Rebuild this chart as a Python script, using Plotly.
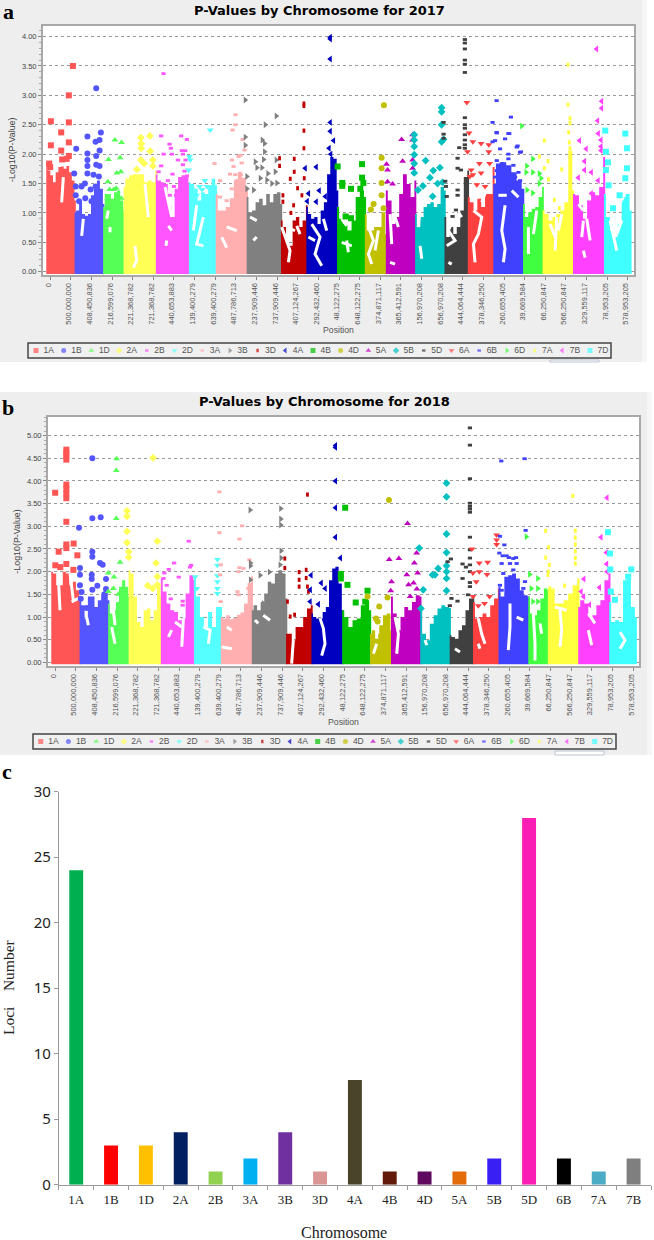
import numpy as np
import plotly.graph_objects as go

W, H = 654, 1240

CHROMS = ["1A","1B","1D","2A","2B","2D","3A","3B","3D","4A","4B","4D","5A","5B","5D","6A","6B","6D","7A","7B","7D"]
CHR_END = [591.5,1283.4,1778.6,2559.3,3360.6,4012,4762,5592.9,6207.6,6951.9,7625.1,8134.6,8843,9555.9,10121.7,10739.3,11460.3,11933.7,12670.4,13421,14060]
COLORS = ["#FF5555","#5555FF","#55FF55","#FFFF55","#FF55FF","#55FFFF","#FFAFAF","#808080","#C00000","#0000C0","#00C000","#C0C000","#C000C0","#00C0C0","#404040","#FF4040","#4040FF","#40FF40","#FFFF40","#FF40FF","#40FFFF"]
SYMBOLS = ["square","circle","triangle-up","diamond","line-ew","triangle-down","line-ew","triangle-right","line-ns","triangle-left","square","circle","triangle-up","diamond","line-ew","triangle-down","line-ew","triangle-right","line-ns","triangle-left","square"]

TICK_POS = list(range(0, 14001, 500))
TICK_TEXT = ["0","500,000,000","408,450,836","216,599,076","221,368,782","721,368,782","440,653,883","139,400,279","639,400,279","487,786,713","237,909,446","737,909,446","407,124,267","292,432,460","48,122,275","648,122,275","374,871,117","365,412,591","156,970,208","656,970,208","444,064,444","378,346,250","260,655,405","39,669,584","66,250,847","566,250,847","329,559,117","78,953,205","578,953,205"]

# 2017: upper edge of the dense mass per chromosome (-log10 p, along the chromosome)
env17_1A = [1.86,1.72,1.64,1.52,1.69,1.78,1.79,1.75,1.80,1.69,1.55,1.21]
env17_1B = [1.01,1.04,1.18,0.98,0.95,0.98,1.30,1.49,1.55,1.41,1.15]
env17_1D = [1.10,1.32,1.32,1.24,1.35,1.38,1.21,1.04]
env17_2A = [1.44,1.58,1.64,1.66,1.66,1.66,1.52,1.55,1.52,1.72]
env17_2B = [1.66,1.55,1.52,1.49,1.12,0.93,1.41,1.61,1.64,1.61,1.49]
env17_2D = [1.52,1.49,1.41,1.21,1.35,1.32,1.47,1.58,1.47]
env17_3A = [1.32,1.04,1.04,1.10,1.25,1.55,1.70,1.60,1.40]
env17_3B = [1.27,1.01,1.04,1.18,1.24,1.13,1.32,1.18,1.32,1.35,1.15]
env17_3D = [0.87,0.76,0.47,0.44,0.87,0.93,0.76,0.87,1.13]
env17_4A = [1.10,0.98,0.90,0.93,0.81,1.04,1.18,1.66,1.95,1.92,1.38]
env17_4B = [1.10,0.90,0.81,0.70,0.87,1.27,1.38,1.27]
env17_4D = [0.98,0.70,0.70,0.76,0.76,1.01,0.64]
env17_5A = [1.38,1.21,0.81,0.93,1.32,1.66,1.49,1.27,1.55]
env17_5B = [0.98,0.76,0.93,1.10,1.15,1.18,1.10,1.15,1.44,1.38]
env17_5D = [0.93,0.59,0.76,0.64,0.76,1.04,1.61,1.72]
env17_6A = [1.27,1.18,1.04,1.24,1.10,1.32,1.32,1.78]
env17_6B = [1.49,1.84,1.86,1.81,1.69,1.55,1.41]
env17_6D = [1.15,0.93,1.01,1.07,1.10,1.27,1.44]
env17_7A = [1.04,0.98,0.87,0.93,0.98,1.04,1.18,2.06,1.38]
env17_7B = [1.32,1.30,1.13,0.90,1.21,1.35,1.30,1.44,1.95]
env17_7D = [1.32,0.93,0.70,0.59,0.81,1.27,1.32,1.04]

# 2017: separately visible points (cumulative Mb, -log10 p)
pts17_1A = [(550,3.50),(452,3.00),(16,2.56),(452,2.54),(267,2.37),(452,2.20),(16,2.15),(267,2.06),(452,1.97),(290,1.91),(400,1.92),(-24,1.84),(0,1.78)]
pts17_1B = [(1115,3.12),(1228,2.37),(902,2.30),(1196,2.24),(1099,2.21),(630,2.09),(902,2.01),(1196,2.06),(1115,1.97),(902,1.90),(902,1.80),(1115,1.82),(1196,1.80),(582,1.67),(902,1.67),(1050,1.65),(1180,1.62),(620,1.45),(840,1.50),(760,1.45),(980,1.40),(1100,1.45),(700,1.20),(850,1.25),(620,1.30),(1000,1.20)]
pts17_1D = [(1567,2.24),(1729,2.20),(1414,1.91),(1697,1.94),(1616,1.68),(1713,1.70),(1398,1.53),(1440,1.40),(1540,1.40),(1600,1.42),(1720,1.25)]
pts17_2A = [(2198,2.28),(2416,2.31),(2206,2.18),(2206,2.10),(2424,2.05),(2198,1.90),(2279,1.84),(2489,1.90),(2489,1.80),(2101,1.74)]
pts17_2B = [(2747,3.37),(2690,2.31),(3175,2.31),(3313,2.25),(2893,2.17),(2925,2.10),(2747,2.00),(2949,2.00),(3191,2.06),(3272,2.06),(3216,2.00),(3095,1.90),(3280,1.90),(2690,1.80),(2626,1.70),(2965,1.66),(3256,1.71),(3216,1.82),(3313,1.63),(2850,1.55),(3000,1.45),(2900,1.30),(3050,1.30)]
pts17_2D = [(3878,2.41),(3377,1.96),(3393,1.90),(3353,1.73),(3800,1.45),(3680,1.40),(3550,1.30),(3620,1.45),(3750,1.55)]
pts17_3A = [(3983,1.84),(4492,2.67),(4484,2.50),(4420,2.41),(4662,2.25),(4710,2.07),(4605,1.98),(4404,1.90),(4444,1.79),(4565,1.96),(4484,1.65),(4620,1.65),(4116,1.55),(4359,1.66),(4520,1.55),(4399,1.41),(4520,1.30),(4278,1.21),(4116,1.27),(4640,1.85)]
pts17_3B = [(4727,2.92),(5478,2.65),(5212,2.50),(4727,2.29),(4727,2.15),(5139,2.24),(5196,2.18),(5196,2.04),(4970,1.87),(5171,1.91),(5010,1.77),(5131,1.77),(5478,1.90),(4767,1.62),(5276,1.67),(5454,1.70),(5090,1.59),(5494,1.51),(4767,1.41),(4929,1.39),(5252,1.56),(5373,1.50)]
pts17_3D = [(6149,2.82),(6149,2.86),(6149,2.40),(6149,2.10),(5559,1.93),(5559,1.80),(5915,1.92),(5915,1.70),(5818,1.58),(6157,1.59),(5996,1.42),(5640,1.30),(6100,1.30),(5900,1.13),(5640,1.19),(5834,1.00)]
pts17_4A = [(6787,3.99),(6787,3.96),(6787,3.62),(6787,2.54),(6787,2.39),(6868,2.23),(6760,2.10),(6800,2.00),(6181,1.76),(6448,1.78),(6262,1.33),(6520,1.38),(6667,1.28),(6448,1.19),(6230,1.20)]
pts17_4B = [(7558,1.83),(7558,1.60),(7079,1.51),(7079,1.46),(7290,1.41),(7589,1.51),(7516,1.41),(7290,0.91),(7160,0.94),(6966,1.79)]
pts17_4D = [(8088,2.83),(8032,1.94),(8032,1.76),(8032,1.51),(8032,1.30),(7838,1.15),(7773,1.06),(8080,1.08)]
pts17_5A = [(8152,1.83),(8541,1.88),(8176,1.73),(8783,2.33),(8783,2.24),(8517,2.25),(8783,1.90),(8783,1.76),(8298,1.49),(8176,1.53)]
pts17_5B = [(9486,2.79),(9486,2.72),(9486,2.50),(9486,2.21),(9534,2.25),(8823,2.33),(8823,2.24),(8823,2.13),(8823,1.99),(8823,1.84),(8823,1.68),(9098,1.89),(9445,1.77),(9284,1.72),(9203,1.60),(9034,1.46),(8913,1.39),(9389,1.50),(9510,1.52),(9268,1.28)]
pts17_5D = [(10050,3.95),(10050,3.89),(10050,3.79),(10050,3.60),(10050,3.53),(10050,3.39),(10050,2.62),(10050,2.50),(10050,2.44),(10050,2.33),(10050,2.24),(10050,2.16),(10050,2.10),(9534,2.54),(9534,2.34),(9534,2.27),(9914,2.11),(9874,1.93),(9874,1.76),(9955,1.73),(9575,1.54),(9590,1.45),(9874,1.39),(9874,1.30),(9610,1.28),(9834,1.05),(9752,0.94)]
pts17_6A = [(10097,2.88),(10153,2.36),(10243,2.21),(10443,2.18),(10630,2.16),(10630,2.04),(10403,1.84),(10203,1.73),(10650,1.84),(10113,2.04),(10170,1.62),(10443,1.68),(10243,1.65),(10340,1.48),(10540,1.45)]
pts17_6B = [(10819,2.91),(11166,2.63),(10722,2.54),(10819,2.37),(11126,2.35),(11328,2.14),(11409,2.04),(10722,2.21),(10823,2.36),(11105,2.35),(10782,2.23),(11025,2.26),(11307,2.12),(10903,2.09),(11105,2.00),(11388,2.03),(10823,1.89),(11105,1.92),(10944,1.84),(11226,1.81),(11348,1.69),(10823,1.72),(11025,1.69),(11267,1.61),(10782,1.61),(10984,1.55),(11388,1.55),(11186,1.47)]
pts17_6D = [(11427,2.48),(11548,1.80),(11694,1.92),(11532,1.69),(11694,1.69),(11854,1.67),(11556,1.39),(11694,1.34),(11854,1.50),(11894,1.59)]
pts17_7A = [(12549,3.52),(12549,2.84),(12597,2.61),(12597,2.53),(12565,2.37),(11976,2.23),(11855,1.96),(12066,1.88),(11976,1.76),(12396,1.74),(12076,1.57),(12581,2.20),(12597,2.10),(12219,1.22),(12340,1.08)]
pts17_7B = [(13242,3.79),(13365,2.90),(13365,2.78),(13268,2.57),(13284,2.35),(13349,2.24),(12828,2.23),(12990,2.09),(13349,2.13),(13349,2.06),(12950,1.88),(13115,1.69),(13115,1.33),(12950,1.73),(12800,1.60),(13280,1.55)]
pts17_7D = [(13453,2.40),(13938,2.35),(13978,2.10),(13469,2.04),(13518,1.86),(13978,1.76),(13469,1.73),(13938,1.59),(13535,1.47),(13640,1.08),(13800,1.30)]

# 2017: white veins inside the mass (polylines, None separates them)
vein17_x = [319,278,None,803,763,None,1409,1369,None,1450,1450,None,2298,2379,None,2056,2096,2015,None,2783,2945,None,2823,2807,None,2864,2945,None,3551,3470,None,3712,3551,3712,None,4278,4520,None,4157,4278,None,4924,5005,None,4843,5005,None,5611,5813,5773,None,5975,6055,None,5813,5934,None,6338,6540,6419,6581,None,6257,6419,None,6621,6702,None,7065,7187,None,7187,7227,None,7065,7308,None,7712,7833,7712,7793,None,7954,7873,None,8237,8277,None,8237,8358,None,8358,8439,None,8964,8924,None,8964,9005,None,9651,9772,9651,9813,9611,None,9651,9732,None,9893,9974,None,10257,10459,10378,10257,10297,None,10459,10580,None,11025,10944,11025,10984,None,10863,11065,None,11186,11348,None,11590,11590,None,11792,11711,None,12277,12237,None,12115,12237,None,12398,12317,None,12923,12883,None,13004,13085,None,12923,12964,None,12802,12923,None,13570,13691,13732,None,13732,13853,None,13893,13732]
vein17_y = [1.61,1.18,None,0.90,0.61,None,1.04,0.90,None,0.76,0.67,None,1.49,0.93,None,0.44,0.19,0.07,None,1.44,0.93,None,0.53,0.44,None,0.78,0.70,None,1.13,0.70,None,0.93,0.47,0.44,None,0.76,0.70,None,0.59,0.41,None,0.53,0.59,None,0.93,0.87,None,0.76,0.36,0.16,None,0.78,0.64,None,0.73,0.70,None,0.81,0.59,0.30,0.10,None,0.59,0.53,None,0.90,0.70,None,0.90,0.78,None,0.53,0.33,None,0.50,0.44,None,0.76,0.53,0.30,0.13,None,0.70,0.36,None,0.98,0.47,None,0.16,0.13,None,0.93,0.76,None,1.07,0.76,None,0.44,0.22,None,1.10,0.90,0.70,0.53,0.44,None,0.16,0.13,None,1.01,0.93,None,1.04,0.93,0.64,0.47,0.16,None,1.18,1.41,None,1.13,0.70,0.39,0.16,None,1.30,1.30,None,1.38,1.27,None,0.76,0.30,None,1.04,0.64,None,0.93,0.36,None,0.81,0.59,None,0.98,0.70,None,0.87,0.59,None,0.90,0.53,None,0.36,0.24,None,1.15,1.04,None,0.87,0.47,0.36,None,0.64,0.87,None,1.27,1.10]

# 2018
env18_1A = [2.00,1.96,1.70,1.70,2.00,1.96,1.70,1.78,1.59,1.41]
env18_1B = [1.41,1.26,0.97,1.45,1.45,1.22,1.37,1.48,1.63,1.37]
env18_1D = [1.30,1.08,1.15,1.33,1.67,1.81,1.67,1.45]
env18_2A = [2.03,1.96,1.45,0.89,0.78,1.15,1.19,0.93,1.15,1.74,1.45]
env18_2B = [1.85,1.56,1.30,1.15,1.11,0.93,0.97,1.52,1.92,1.81]
env18_2D = [1.89,1.45,1.00,0.78,1.11,0.78,1.22,1.22]
env18_3A = [1.00,0.97,1.04,0.95,0.98,1.05,1.10,1.30,1.75,1.90]
env18_3B = [1.15,1.26,1.15,1.33,1.52,1.78,1.74,1.96,2.03,1.96,1.41]
env18_3D = [0.63,0.63,0.49,0.78,0.78,1.00,1.19,1.26]
env18_4A = [1.08,1.00,0.97,0.97,1.11,1.22,1.81,2.07,2.11,1.74,1.15]
env18_4B = [1.15,1.00,0.78,0.93,0.97,1.26,1.37,1.15]
env18_4D = [0.63,0.71,0.63,0.82,1.04,1.08,0.71]
env18_5A = [1.45,1.08,0.71,1.00,1.22,1.15,1.33,1.48,1.45]
env18_5B = [1.15,0.63,0.49,0.85,1.04,1.19,1.26,1.22,1.20]
env18_5D = [0.60,0.56,0.52,0.71,0.82,1.15,1.41,1.48]
env18_6A = [1.33,0.97,1.00,1.08,1.00,1.26,1.41,1.63]
env18_6B = [1.67,1.45,1.89,1.92,1.96,1.85,1.59,1.48,1.45]
env18_6D = [1.45,1.08,1.04,1.15,1.41,1.63,1.59]
env18_7A = [1.63,1.63,1.30,1.30,1.37,1.52,1.70,1.85]
env18_7B = [1.22,1.37,1.30,1.00,1.04,1.26,1.37,1.81,1.96]
env18_7D = [1.33,0.89,0.93,0.89,1.81,1.89,1.22,1.00]

pts18_1A = [(270,4.69),(270,4.62),(270,4.55),(270,4.47),(270,3.92),(270,3.82),(270,3.72),(270,3.62),(270,3.10),(0,3.74),(447,2.62),(270,2.60),(270,2.52),(84,2.44),(537,2.36),(3,2.14),(124,2.10),(270,2.17),(440,2.04)]
pts18_1B = [(900,4.50),(577,2.97),(900,3.18),(1102,3.20),(900,2.44),(900,2.33),(1086,2.19),(1150,2.15),(601,2.08),(601,1.93),(885,1.93),(885,1.84),(1231,1.84),(1021,1.69),(1231,1.62),(600,1.70),(640,1.55),(620,1.40),(900,1.60),(760,1.20),(1190,1.50)]
pts18_1D = [(1489,4.49),(1481,4.23),(1481,3.17),(1571,2.21),(1288,1.97),(1426,1.88),(1410,1.63),(1288,1.56),(1530,1.50)]
pts18_2A = [(2371,4.51),(1740,3.34),(1740,3.22),(1740,2.89),(1740,2.64),(1781,2.44),(1781,2.32),(2476,2.67),(2444,2.19),(2476,1.89),(2242,1.69),(2363,1.63),(2476,1.71)]
pts18_2B = [(3235,2.67),(2880,2.19),(2751,2.05),(2993,1.88),(2645,1.97),(3291,2.14),(3267,2.10),(2622,1.85),(3089,1.35),(3089,1.26),(2700,1.70),(2800,1.40)]
pts18_2D = [(3930,2.27),(3930,2.14),(3930,1.91),(3930,1.78),(3930,1.63),(3930,1.52),(3388,1.89),(3428,1.63)]
pts18_3A = [(3978,3.76),(3978,2.86),(4528,3.01),(4464,2.72),(4704,2.26),(4464,2.09),(4560,2.07),(4010,2.15),(3995,1.93),(4440,2.00),(4680,1.63),(4415,1.56),(4010,1.34),(4440,1.49)]
pts18_3B = [(4721,3.36),(5464,3.39),(5464,3.16),(5464,3.03),(5472,2.46),(5472,2.30),(5448,2.15),(4729,2.19),(4729,2.13),(4963,1.92),(5190,1.99),(5464,1.95),(4729,1.82),(5464,1.80),(5043,1.30)]
pts18_3D = [(6111,3.70),(5562,2.29),(5562,2.08),(5910,1.99),(6080,2.04),(5910,1.82),(6080,1.86),(6111,1.67),(5910,1.67),(5627,1.34),(5693,1.01),(5800,1.05),(6135,1.56)]
pts18_4A = [(6790,4.78),(6790,4.74),(6790,4.00),(6790,3.41),(6790,2.76),(6910,2.30),(6199,1.92),(6445,1.75),(6540,1.63),(6375,1.28),(6175,1.34),(6730,1.66),(6180,1.60)]
pts18_4B = [(7025,3.41),(6920,1.95),(6920,1.85),(7080,1.71),(7565,1.58),(7280,1.32),(7510,1.34)]
pts18_4D = [(8085,3.58),(8050,1.43),(7850,1.23),(7565,1.45),(7770,0.97),(7810,0.90)]
pts18_5A = [(8535,3.06),(8092,2.27),(8326,2.29),(8755,2.41),(8700,2.19),(8517,1.93),(8148,1.78),(8780,1.97),(8560,1.71),(8130,1.58),(8680,1.75),(8760,1.62),(8600,1.45)]
pts18_5B = [(9480,3.95),(9480,3.65),(9480,2.83),(8818,2.52),(9480,2.42),(9480,2.13),(9480,2.00),(9480,1.85),(9480,1.58),(9277,2.07),(9140,1.93),(9200,1.93),(8915,1.60),(8860,1.19)]
pts18_5D = [(10046,5.17),(10046,4.79),(10046,4.05),(10046,3.51),(10046,3.44),(10046,3.38),(10046,3.31),(10046,2.76),(10046,2.48),(10046,2.30),(9585,2.28),(9505,2.22),(10046,2.15),(10046,2.00),(9868,2.17),(9868,1.85),(10046,1.76),(10046,1.67),(9600,1.41),(9746,1.35),(10000,1.49),(9950,2.10),(9560,1.25)]
pts18_6A = [(10693,2.81),(10095,2.50),(10273,2.19),(10475,2.21),(10273,2.00),(10460,1.94),(10693,2.70),(10693,2.60),(10120,1.97),(10200,1.78),(10520,1.45),(10120,1.45),(10400,1.30),(10250,1.25)]
pts18_6B = [(10806,4.44),(11372,4.49),(11396,2.91),(10774,2.78),(10880,2.59),(10760,2.41),(10840,2.35),(11162,2.31),(10990,2.31),(10936,2.35),(11097,2.29),(10815,2.18),(11017,2.18),(11178,2.18),(10855,1.96),(11097,2.04),(10976,1.85),(11380,1.78),(10774,1.70),(11138,1.70),(11340,1.63),(10815,1.59)]
pts18_6D = [(11412,2.77),(11493,1.94),(11690,1.85),(11530,1.63),(11690,1.63),(11570,1.34),(11690,1.34)]
pts18_7A = [(11881,2.90),(12535,3.67),(12600,2.90),(12600,2.75),(12600,2.60),(12600,2.45),(12600,2.30),(12600,2.18),(11953,2.54),(11881,2.31),(11970,2.15),(11945,2.00),(12340,1.69),(11935,1.93),(11980,1.63)]
pts18_7B = [(13367,3.63),(13222,2.76),(13351,2.42),(13359,2.17),(13367,2.00),(12806,1.84),(13185,1.65),(12740,1.56),(12800,1.45),(12945,1.27)]
pts18_7D = [(13390,2.87),(13438,2.40),(13445,2.05),(13955,2.05),(13460,1.56),(13560,1.38),(13880,1.89)]

vein18_x = [76,117,None,359,440,None,399,561,None,763,803,None,1409,1450,None,1369,1450,None,2904,3066,None,2823,2743,None,3106,3066,None,3591,3753,3712,None,4157,4278,None,4035,4278,None,4839,4920,None,5041,5203,None,5769,5728,None,6415,6496,6536,6455,None,7788,7708,None,7788,7788,None,8233,8314,8273,None,8960,9000,None,9683,9845,None,9683,9805,None,10249,10330,10411,None,10249,10289,None,11017,11017,10976,None,11178,11340,None,11582,11623,11623,None,11744,11784,None,12229,12269,12229,None,12107,12390,None,12915,13077,None,12915,12996,None,13683,13804,13683]
vein18_y = [1.89,1.15,None,1.96,1.37,None,1.33,1.41,None,1.00,0.82,None,1.15,0.82,None,0.78,0.41,None,0.89,0.78,None,0.71,0.56,None,0.97,0.34,None,0.78,0.71,0.41,None,0.78,0.71,None,0.34,0.30,None,0.93,0.86,None,1.04,0.93,None,0.49,-0.03,None,0.97,0.75,0.41,0.15,None,0.41,0.19,None,0.75,0.52,None,1.00,0.63,0.19,None,0.49,0.38,None,1.00,0.82,None,0.30,0.23,None,0.97,0.63,0.41,None,0.41,0.30,None,1.30,0.78,0.27,None,1.00,0.93,None,1.08,0.41,0.04,None,0.86,0.63,None,1.15,0.71,0.34,None,1.22,1.15,None,1.08,0.86,None,0.71,0.38,None,0.67,0.49,0.30]

# panel c
LOCI_CHROM = ["1A","1B","1D","2A","2B","3A","3B","3D","4A","4B","4D","5A","5B","5D","6B","7A","7B"]
LOCI_COUNT = [24,3,3,4,1,2,4,1,8,1,1,1,2,28,2,1,2]
LOCI_COLOR = ["#00B050","#FF0000","#FFC000","#002060","#92D050","#00B0F0","#7030A0","#D99694","#4A452A","#621A0A","#5F0A5F","#E36C09","#3A1FF5","#FA1EB4","#000000","#4BACC6","#7F7F7F"]


def fx(p): return p / W
def fy(p): return 1 - p / H

fig = go.Figure()


def manhattan(tag, xaxis, yaxis):
    starts = [0] + CHR_END[:-1]
    for i, c in enumerate(CHROMS):
        env = globals()[f"env{tag}_{c}"]
        s = starts[i] - (95 if i == 0 else 0)
        xs = np.linspace(s, CHR_END[i] + 30, len(env))
        fig.add_trace(go.Scatter(x=[s, *xs, CHR_END[i] + 30], y=[-0.04, *env, -0.04],
                                 mode="lines", line=dict(width=0, color=COLORS[i], shape="hvh"), fill="toself",
                                 fillcolor=COLORS[i], xaxis=xaxis, yaxis=yaxis, showlegend=False, hoverinfo="skip"))
    fig.add_trace(go.Scatter(x=globals()[f"vein{tag}_x"], y=globals()[f"vein{tag}_y"], mode="lines",
                             line=dict(color="white", width=3), xaxis=xaxis, yaxis=yaxis, showlegend=False, hoverinfo="skip"))
    for i, c in enumerate(CHROMS):
        pts = globals()[f"pts{tag}_{c}"]
        sym = SYMBOLS[i]
        is_line = sym.startswith("line")
        fig.add_trace(go.Scatter(x=[p[0] for p in pts], y=[p[1] for p in pts], mode="markers", name=c,
                                 marker=dict(symbol=sym, size=3 if is_line else 6, color=COLORS[i],
                                             line=dict(width=2.8 if is_line else 0, color=COLORS[i])),
                                 xaxis=xaxis, yaxis=yaxis, showlegend=False))


def key(xaxis, yaxis):
    idx = list(range(len(CHROMS)))
    fig.add_trace(go.Scatter(x=idx, y=[0] * len(idx), mode="markers", xaxis=xaxis, yaxis=yaxis, showlegend=False, hoverinfo="skip",
                             marker=dict(symbol=SYMBOLS, size=[2.5 if s.startswith("line") else 5 for s in SYMBOLS], color=COLORS,
                                         line=dict(width=[2.4 if s.startswith("line") else 0 for s in SYMBOLS], color=COLORS))))
    fig.add_trace(go.Scatter(x=[i + 0.27 for i in idx], y=[0] * len(idx), mode="text", text=CHROMS, textposition="middle right",
                             textfont=dict(family="Liberation Sans", size=8.5, color="#555555"),
                             xaxis=xaxis, yaxis=yaxis, showlegend=False, hoverinfo="skip"))


manhattan("17", "x", "y")
manhattan("18", "x2", "y2")
key("x4", "y4")
key("x5", "y5")
fig.add_trace(go.Bar(x=LOCI_CHROM, y=LOCI_COUNT, marker=dict(color=LOCI_COLOR, line=dict(width=0)), xaxis="x3", yaxis="y3", showlegend=False))


def man_axes(x0, x1, y0, y1, xr, yr, dt_anchor):
    xa = dict(domain=[fx(x0), fx(x1)], range=xr, tickmode="array", tickvals=TICK_POS, ticktext=TICK_TEXT, tickangle=-90,
              ticks="outside", ticklen=3, tickcolor="#888", tickwidth=1, ticklabelshift=-2,
              tickfont=dict(family="Liberation Sans", size=7.5, color="#555555"), showgrid=False, zeroline=False,
              showline=True, linecolor="#A8A8A8", linewidth=2, mirror=True, anchor=dt_anchor)
    ya = dict(domain=[fy(y1), fy(y0)], range=yr, tickmode="linear", tick0=0, dtick=0.5, tickformat=".2f", ticks="outside",
              ticklen=3, tickcolor="#888", tickfont=dict(family="Liberation Sans", size=7.5, color="#444444"), showgrid=True,
              griddash="dot", gridcolor="#999999", gridwidth=1, zeroline=False, showline=True, linecolor="#A8A8A8", linewidth=2, mirror=True,
              minor=dict(ticks="outside", ticklen=2, dtick=0.1, tickcolor="#AAA", showgrid=False))
    return xa, ya


xa1, ya1 = man_axes(43, 634, 26, 275, [-174.5, 14149], [-0.056, 4.18], "y")
xa2, ya2 = man_axes(48, 639, 417, 666, [-174, 14142], [-0.08, 5.41], "y2")
ya1["anchor"] = "x"
ya2["anchor"] = "x2"

hidden = dict(visible=False, showgrid=False, zeroline=False)

shapes = [
    dict(type="rect", xref="paper", yref="paper", x0=0, x1=fx(642), y0=fy(362), y1=1, fillcolor="#EEEEEE", line_width=0, layer="below"),
    dict(type="rect", xref="paper", yref="paper", x0=fx(642), x1=fx(647), y0=fy(362), y1=1, fillcolor="#F6F6F6", line_width=0, layer="below"),
    dict(type="rect", xref="paper", yref="paper", x0=0, x1=fx(647), y0=fy(755), y1=fy(392), fillcolor="#EEEEEE", line_width=0, layer="below"),
    dict(type="rect", xref="paper", yref="paper", x0=fx(647), x1=fx(652), y0=fy(755), y1=fy(392), fillcolor="#F6F6F6", line_width=0, layer="below"),
    dict(type="rect", xref="paper", yref="paper", x0=fx(550), x1=fx(599), y0=fy(362), y1=fy(360), fillcolor="#FFFFFF", line=dict(color="#B8C4D0", width=1), layer="below"),
    dict(type="rect", xref="paper", yref="paper", x0=fx(555), x1=fx(604), y0=fy(755), y1=fy(751), fillcolor="#FFFFFF", line=dict(color="#B8C4D0", width=1), layer="below"),
    dict(type="rect", xref="x domain", yref="y domain", x0=0, x1=1, y0=0, y1=1, fillcolor="#FFFFFF", line_width=0, layer="below"),
    dict(type="rect", xref="x2 domain", yref="y2 domain", x0=0, x1=1, y0=0, y1=1, fillcolor="#FFFFFF", line_width=0, layer="below"),
    dict(type="rect", xref="x4 domain", yref="y4 domain", x0=0, x1=1, y0=0, y1=1, fillcolor="#F0F0F0", line=dict(color="#444444", width=1.5), layer="below"),
    dict(type="rect", xref="x5 domain", yref="y5 domain", x0=0, x1=1, y0=0, y1=1, fillcolor="#F0F0F0", line=dict(color="#444444", width=1.5), layer="below"),
]


def ann(px, py, text, size, family, color="#000000", bold=False, angle=0, xanchor="center"):
    return dict(x=fx(px), y=fy(py), xref="paper", yref="paper", text=f"<b>{text}</b>" if bold else text, showarrow=False,
                font=dict(size=size, family=family, color=color), textangle=angle, xanchor=xanchor, yanchor="middle")


annotations = [
    ann(319, 10.5, "P-Values by Chromosome for 2017", 13, "DejaVu Sans", bold=True),
    ann(324.5, 401.7, "P-Values by Chromosome for 2018", 13, "DejaVu Sans", bold=True),
    ann(338.5, 330, "Position", 8.7, "Liberation Sans", "#555555"),
    ann(343.5, 721.7, "Position", 8.7, "Liberation Sans", "#555555"),
    ann(12, 150, "-Log10(P-Value)", 8.9, "Liberation Sans", "#444444", angle=-90),
    ann(17, 541.7, "-Log10(P-Value)", 8.9, "Liberation Sans", "#444444", angle=-90),
    ann(8, 11, "a", 22, "Liberation Serif", bold=True),
    ann(8, 407, "b", 22, "Liberation Serif", bold=True),
    ann(7, 771, "c", 22, "Liberation Serif", bold=True),
    ann(344, 1232.5, "Chromosome", 16, "Liberation Serif", "#222222"),
    ann(8, 987, "Loci\u00a0\u00a0\u00a0\u00a0Number", 15.5, "Liberation Serif", "#222222", angle=-90),
]

fig.update_layout(
    width=W, height=H, margin=dict(l=0, r=0, t=0, b=0, pad=0, autoexpand=False), paper_bgcolor="white", plot_bgcolor="white",
    showlegend=False, bargap=0.6, shapes=shapes, annotations=annotations,
    xaxis=xa1, yaxis=ya1, xaxis2=xa2, yaxis2=ya2,
    xaxis3=dict(domain=[fx(58.8), fx(651)], anchor="y3", type="category", categoryorder="array", categoryarray=LOCI_CHROM,
                ticks="outside", ticklen=4, tickcolor="#999", tickson="boundaries", showline=True, linecolor="#999", linewidth=1,
                showgrid=False, zeroline=False, ticklabelstandoff=3, tickfont=dict(family="Liberation Serif", size=13, color="#222222")),
    yaxis3=dict(domain=[fy(1184.7), fy(791.7)], anchor="x3", range=[0, 30], tickmode="linear", tick0=0, dtick=5, ticks="outside",
                ticklen=4, tickcolor="#999", showline=True, linecolor="#999", linewidth=1, showgrid=False, zeroline=False,
                tickfont=dict(family="Noto Sans", size=15, color="#222222")),
    xaxis4=dict(domain=[fx(28), fx(611)], range=[-0.289, 20.76], anchor="y4", **hidden),
    yaxis4=dict(domain=[fy(358), fy(343)], range=[-1, 1], anchor="x4", **hidden),
    xaxis5=dict(domain=[fx(33), fx(616)], range=[-0.279, 20.77], anchor="y5", **hidden),
    yaxis5=dict(domain=[fy(749), fy(734)], range=[-1, 1], anchor="x5", **hidden),
)

fig.write_html("out.html", config={"displayModeBar": False}, post_script="document.body.style.margin='0';")
